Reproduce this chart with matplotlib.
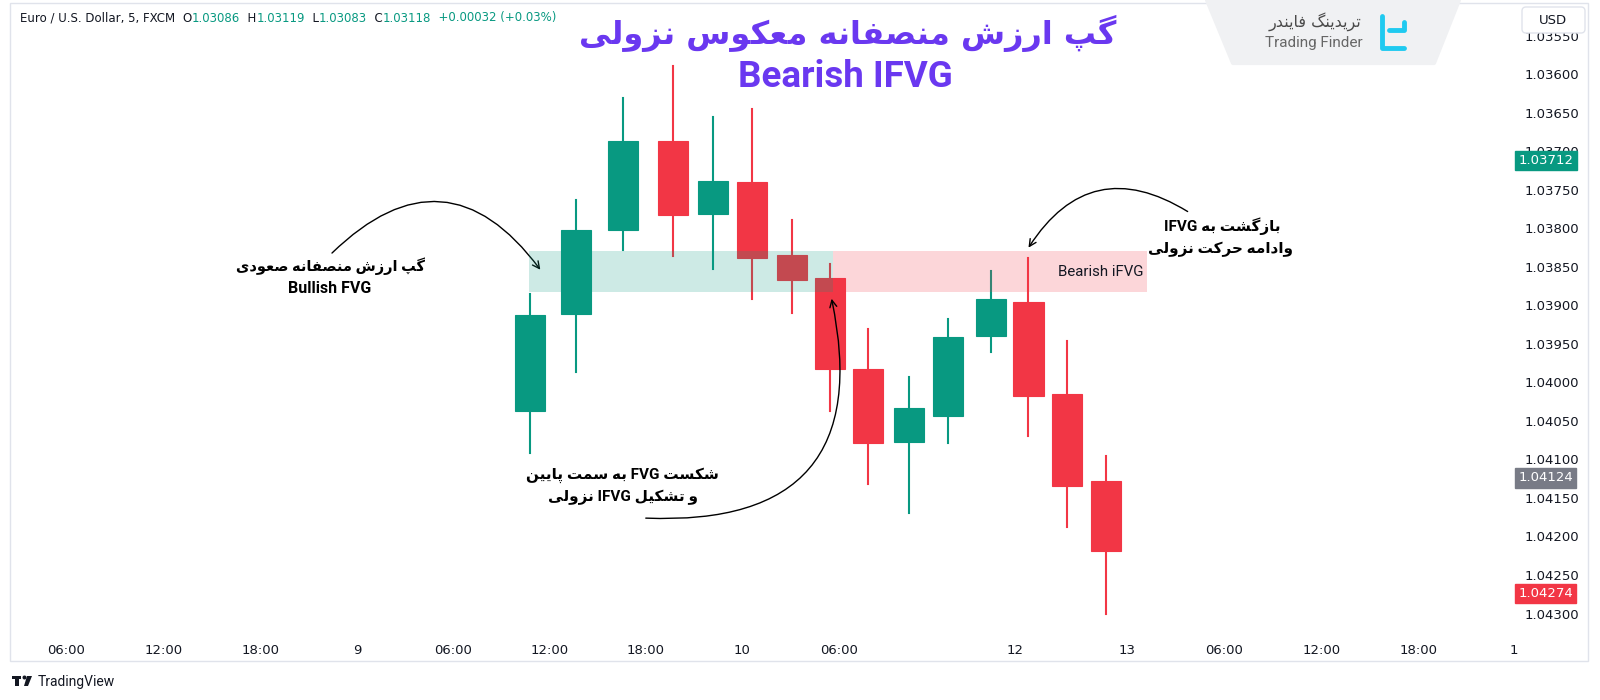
import matplotlib
matplotlib.use('Agg')
import matplotlib.pyplot as plt
from matplotlib.patches import Rectangle, Polygon, FancyBboxPatch, Circle
from matplotlib.lines import Line2D

# candles (price axis runs downwards, as in the source screenshot)
times = [34.7, 37.5, 40.4, 43.5, 46.0, 48.4, 50.9, 53.2, 55.6, 58.1, 60.5, 63.2, 65.5, 67.9, 70.3]
opens = [1.04037, 1.03911, 1.03802, 1.03686, 1.03781, 1.03740, 1.03834, 1.03865,
         1.03982, 1.04077, 1.04044, 1.03940, 1.03895, 1.04015, 1.04128]
closes = [1.03912, 1.03802, 1.03686, 1.03782, 1.03738, 1.03838, 1.03867, 1.03983,
          1.04078, 1.04033, 1.03941, 1.03892, 1.04017, 1.04134, 1.04219]
wick_min = [1.03885, 1.03763, 1.03631, 1.03589, 1.03656, 1.03645, 1.03789, 1.03846,
            1.03931, 1.03993, 1.03918, 1.03855, 1.03838, 1.03946, 1.04096]
wick_max = [1.04092, 1.03987, 1.03828, 1.03836, 1.03853, 1.03892, 1.03910, 1.04037,
            1.04132, 1.04169, 1.04079, 1.03961, 1.04070, 1.04188, 1.04301]

# gap zone
gap_lo, gap_hi = 1.03830, 1.03883
gap_start, gap_flip, gap_end = 34.6, 53.4, 72.8

price_ticks = [1.0355 + 0.0005 * i for i in range(16)]
time_ticks = [6, 12, 18, 24, 29.9, 35.9, 41.8, 47.8, 53.8, 64.7, 71.6, 77.6, 83.6, 89.6, 95.5]
time_labels = ['06:00', '12:00', '18:00', '9', '06:00', '12:00', '18:00', '10', '06:00',
               '12', '13', '06:00', '12:00', '18:00', '1']

tags = [(1.03712, '#089981'), (1.04124, '#787b86'), (1.04274, '#f23645')]
ohlc = ['1.03086', '1.03119', '1.03083', '1.03118']

GREEN = '#089981'
RED = '#f23645'
PURPLE = '#6a38f0'
DARK = '#131722'

# tiny persian shaper: isolated, final, initial, medial
FORMS = {
    'ا': ('\uFE8D', '\uFE8E', None, None),
    'ب': ('\uFE8F', '\uFE90', '\uFE91', '\uFE92'),
    'پ': ('\uFB56', '\uFB57', '\uFB58', '\uFB59'),
    'ت': ('\uFE95', '\uFE96', '\uFE97', '\uFE98'),
    'ح': ('\uFEA1', '\uFEA2', '\uFEA3', '\uFEA4'),
    'د': ('\uFEA9', '\uFEAA', None, None),
    'ر': ('\uFEAD', '\uFEAE', None, None),
    'ز': ('\uFEAF', '\uFEB0', None, None),
    'س': ('\uFEB1', '\uFEB2', '\uFEB3', '\uFEB4'),
    'ش': ('\uFEB5', '\uFEB6', '\uFEB7', '\uFEB8'),
    'ص': ('\uFEB9', '\uFEBA', '\uFEBB', '\uFEBC'),
    'ع': ('\uFEC9', '\uFECA', '\uFECB', '\uFECC'),
    'ف': ('\uFED1', '\uFED2', '\uFED3', '\uFED4'),
    'ک': ('\uFB8E', '\uFB8F', '\uFB90', '\uFB91'),
    'گ': ('\uFB92', '\uFB93', '\uFB94', '\uFB95'),
    'ل': ('\uFEDD', '\uFEDE', '\uFEDF', '\uFEE0'),
    'م': ('\uFEE1', '\uFEE2', '\uFEE3', '\uFEE4'),
    'ن': ('\uFEE5', '\uFEE6', '\uFEE7', '\uFEE8'),
    'ه': ('\uFEE9', '\uFEEA', '\uFEEB', '\uFEEC'),
    'و': ('\uFEED', '\uFEEE', None, None),
    'ی': ('\uFBFC', '\uFBFD', '\uFBFE', '\uFBFF'),
}


def shape_word(w):
    out = []
    for i, ch in enumerate(w):
        if ch not in FORMS:
            out.append(ch)
            continue
        prev = w[i - 1] if i > 0 else ''
        nxt = w[i + 1] if i + 1 < len(w) else ''
        jp = prev in FORMS and FORMS[prev][2] is not None
        jn = nxt in FORMS and FORMS[ch][2] is not None
        iso, fin, ini, med = FORMS[ch]
        out.append(med if jp and jn else fin if jp else ini if jn else iso)
    return ''.join(out)


def fa(line):
    words = []
    for w in line.split(' '):
        if any(c in FORMS for c in w):
            words.append(shape_word(w)[::-1])
        else:
            words.append(w)
    return ' '.join(words[::-1])


fig = plt.figure(figsize=(16, 7), dpi=100)
fig.patch.set_facecolor('white')


def fpx(x, y):
    # figure pixel from top-left
    return (x / 1600, 1 - y / 700)


ax = fig.add_axes([12 / 1600, 68 / 700, 1504 / 1600, 627 / 700])
ax.set_xlim(2.64, 95.65)
ax.set_ylim(1.04324, 1.03510)
for s in ax.spines.values():
    s.set_visible(False)

w = 1.86
for t, o, c, lo, hi in zip(times, opens, closes, wick_min, wick_max):
    col = GREEN if c < o else RED
    ax.add_line(Line2D([t, t], [lo, hi], color=col, lw=1.5, zorder=2))
    ax.add_patch(Rectangle((t - w / 2, min(o, c)), w, abs(c - o), facecolor=col,
                           edgecolor=col, lw=0.8, zorder=3))

ax.add_patch(Rectangle((gap_start, gap_lo), gap_flip - gap_start, gap_hi - gap_lo,
                       facecolor=GREEN, alpha=0.2, lw=0, zorder=4))
ax.add_patch(Rectangle((gap_flip, gap_lo), gap_end - gap_flip, gap_hi - gap_lo,
                       facecolor=RED, alpha=0.2, lw=0, zorder=4))
ax.text(gap_end - 0.2, (gap_lo + gap_hi) / 2, 'Bearish iFVG', ha='right', va='center',
        fontsize=10.8, color=DARK, family=['Roboto', 'DejaVu Sans'], zorder=5)

ax.yaxis.tick_right()
ax.set_yticks(price_ticks)
ax.set_yticklabels([f'{p:.5f}' for p in price_ticks])
ax.set_xticks(time_ticks)
ax.set_xticklabels(time_labels)
ax.tick_params(axis='y', length=0, pad=6, labelsize=9.5, labelcolor=DARK)
ax.tick_params(axis='x', length=0, pad=9, labelsize=9.5, labelcolor=DARK)

for price, col in tags:
    ax.text(1.0015, price, f'{price:.5f}', transform=ax.get_yaxis_transform(),
            ha='left', va='center', fontsize=9.5, color='white', zorder=10, clip_on=False,
            bbox=dict(boxstyle='square,pad=0.25', fc=col, ec=col))

# frame
fig.add_artist(Rectangle((10, 39), 1578, 658, transform=None, fill=False,
                         ec='#e0e3eb', lw=1))

# header
renderer = fig.canvas.get_renderer()
pieces = [('Euro / U.S. Dollar, 5, FXCM  ', DARK), ('O', DARK), (ohlc[0], GREEN),
          ('  H', DARK), (ohlc[1], GREEN), ('  L', DARK), (ohlc[2], GREEN),
          ('  C', DARK), (ohlc[3], GREEN), ('  +0.00032 (+0.03%)', GREEN)]
x = 20
for txt, col in pieces:
    tt = fig.text(x / 1600, 1 - 18 / 700, txt, fontsize=8.5, color=col, va='center', ha='left')
    x += tt.get_window_extent(renderer).width

# logo box
fig.add_artist(Polygon([(1207, 700), (1459, 700), (1434, 637), (1233, 637)], closed=True,
                       transform=None, fc='#f0f1f3', ec='#f0f1f3', lw=3, joinstyle='round'))
fig.text(*fpx(1315, 22), fa('تریدینگ فایندر'), fontsize=11.5, color='#4a4a4a',
         ha='center', va='center', family=['DejaVu Sans'])
fig.text(*fpx(1314, 43), 'Trading Finder', fontsize=11, color='#666666',
         ha='center', va='center', family=['Roboto', 'DejaVu Sans'])
cy = '#1fcaf0'
fig.add_artist(Line2D([1382, 1382, 1404], [684, 652, 652], transform=None, color=cy, lw=3.5,
                      solid_joinstyle='round', solid_capstyle='round'))
fig.add_artist(Line2D([1389, 1404, 1404], [670, 670, 678], transform=None, color=cy, lw=3.5,
                      solid_joinstyle='round', solid_capstyle='round'))

# USD box
fig.add_artist(FancyBboxPatch((1522, 667), 63, 26, boxstyle='round,pad=0,rounding_size=4',
                              transform=None, fc='white', ec='#e0e3eb', lw=1, zorder=20))
fig.text(*fpx(1553, 20), 'USD', fontsize=9.5, color=DARK, ha='center', va='center', zorder=21)

# TradingView footer
fig.text(*fpx(38, 682), 'TradingView', fontsize=10, color=DARK, ha='left', va='center',
         family=['Roboto', 'DejaVu Sans'])
fig.add_artist(Rectangle((12, 21), 9, 3, transform=None, fc=DARK, ec='none'))
fig.add_artist(Rectangle((15, 14), 3.5, 8, transform=None, fc=DARK, ec='none'))
fig.add_artist(Circle((24.5, 22.5), 2, transform=None, fc=DARK, ec='none'))
fig.add_artist(Polygon([(27, 24), (32, 24), (28, 14), (24, 14)], transform=None,
                       fc=DARK, ec='none'))

# title
fig.text(*fpx(848, 33), fa('گپ ارزش منصفانه معکوس نزولی'), fontsize=23, weight='bold',
         color=PURPLE, ha='center', va='center', family=['DejaVu Sans'])
fig.text(*fpx(845, 77), 'Bearish IFVG', fontsize=26.5, weight='bold', color=PURPLE,
         ha='center', va='center', family=['Roboto', 'DejaVu Sans'])

# annotations
fam = ['Roboto', 'DejaVu Sans']
fig.text(*fpx(330, 266), fa('گپ ارزش منصفانه صعودی'), fontsize=10.5, weight='bold',
         color='black', ha='center', va='center', family=fam)
fig.text(*fpx(330, 289), 'Bullish FVG', fontsize=11.5, weight='bold',
         color='black', ha='center', va='center', family=fam)
fig.text(*fpx(622, 475), fa('شکست FVG به سمت پایین'), fontsize=11, weight='bold',
         color='black', ha='center', va='center', family=fam)
fig.text(*fpx(623, 497), fa('و تشکیل IFVG نزولی'), fontsize=11, weight='bold',
         color='black', ha='center', va='center', family=fam)
fig.text(*fpx(1222, 226), fa('بازگشت به IFVG'), fontsize=11, weight='bold',
         color='black', ha='center', va='center', family=fam)
fig.text(*fpx(1220, 249), fa('وادامه حرکت نزولی'), fontsize=11, weight='bold',
         color='black', ha='center', va='center', family=fam)


def arrow(p0, p1, rad):
    ax.annotate('', xy=(p1[0], 700 - p1[1]), xytext=(p0[0], 700 - p0[1]),
                xycoords='figure pixels', textcoords='figure pixels',
                arrowprops=dict(arrowstyle='->,head_length=0.5,head_width=0.25',
                                connectionstyle=f'arc3,rad={rad}', color='black', lw=1),
                annotation_clip=False)


arrow((330, 255), (542, 272), -0.58)
arrow((643, 518), (831, 296), 0.65)
arrow((1190, 213), (1027, 250), 0.5)

fig.savefig('out.png', dpi=100)
